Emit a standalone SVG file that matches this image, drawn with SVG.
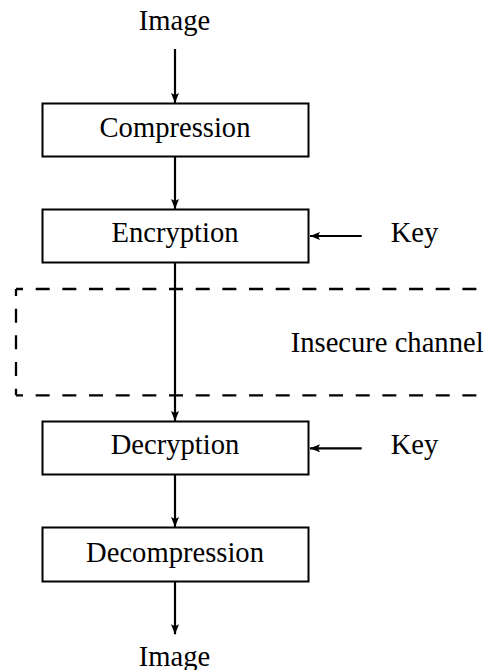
<svg xmlns="http://www.w3.org/2000/svg" width="489" height="670" viewBox="0 0 489 670">
<style>
text{font-family:"Liberation Serif","Times New Roman",serif;font-size:28.6px;fill:#000}
.c{text-anchor:middle}
.box{fill:#fff;stroke:#000;stroke-width:2}
.ln{stroke:#000;stroke-width:2.2;fill:none}
.dash{stroke:#000;stroke-width:2.3;fill:none;stroke-dasharray:14 12.67;stroke-dashoffset:7}
</style>
<defs>
<marker id="ah" viewBox="0 0 10 8" refX="10" refY="4" markerWidth="10" markerHeight="8" markerUnits="userSpaceOnUse" orient="auto">
<path d="M0,0 L10,4 L0,8 L2,4 Z" fill="#000"/>
</marker>
</defs>
<g id="channel">
<line class="dash" x1="16" y1="289" x2="500" y2="289"/>
<line class="dash" x1="16" y1="289" x2="16" y2="395.3"/>
<line class="dash" x1="16" y1="395.3" x2="500" y2="395.3"/>
<text x="290.7" y="352.3">Insecure channel</text>
</g>
<g id="connectors">
<line class="ln" x1="175" y1="49" x2="175" y2="103" marker-end="url(#ah)"/>
<line class="ln" x1="175" y1="157" x2="175" y2="209" marker-end="url(#ah)"/>
<line class="ln" x1="175" y1="263" x2="175" y2="421" marker-end="url(#ah)"/>
<line class="ln" x1="175" y1="475" x2="175" y2="527" marker-end="url(#ah)"/>
<line class="ln" x1="175" y1="582" x2="175" y2="634.3" marker-end="url(#ah)"/>
<line class="ln" x1="361.7" y1="236" x2="310" y2="236" marker-end="url(#ah)"/>
<line class="ln" x1="361.7" y1="448.3" x2="310" y2="448.3" marker-end="url(#ah)"/>
</g>
<g id="image-in"><text class="c" x="174.5" y="30">Image</text></g>
<g id="compression">
<rect class="box" x="42.5" y="103.5" width="266" height="53"/>
<text class="c" x="175" y="136.7">Compression</text>
</g>
<g id="encryption">
<rect class="box" x="42.5" y="209.5" width="266" height="53"/>
<text class="c" x="175" y="242.3">Encryption</text>
</g>
<g id="key1"><text x="390.7" y="242.3">Key</text></g>
<g id="decryption">
<rect class="box" x="42.5" y="421.5" width="266" height="53"/>
<text class="c" x="175" y="454.3">Decryption</text>
</g>
<g id="key2"><text x="390.7" y="454.3">Key</text></g>
<g id="decompression">
<rect class="box" x="42.5" y="527.5" width="266" height="54"/>
<text class="c" x="175" y="561.7">Decompression</text>
</g>
<g id="image-out"><text class="c" x="174.5" y="666">Image</text></g>
</svg>
